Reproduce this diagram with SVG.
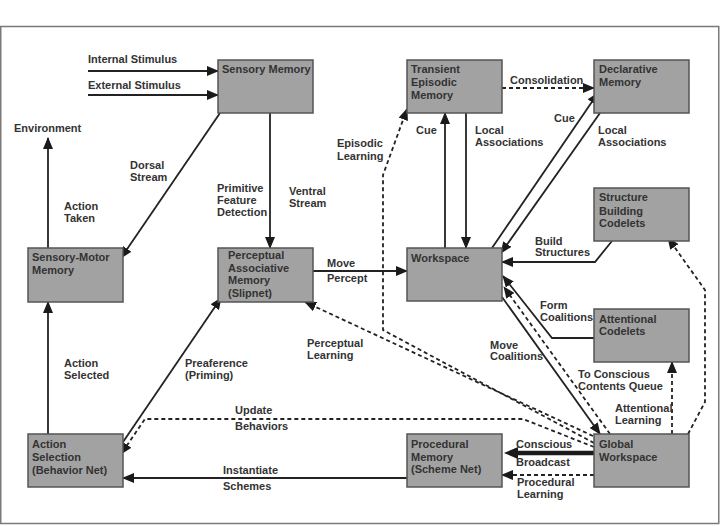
<svg xmlns="http://www.w3.org/2000/svg" width="720" height="526" viewBox="0 0 720 526">
<style>
.bg{fill:#fff}
.frame{fill:#fff;stroke:#7a7a7a;stroke-width:1.5}
.box{fill:#a2a2a2;stroke:#555;stroke-width:1.5}
text{font-family:"Liberation Sans",Arial,sans-serif;font-weight:bold;font-size:11px;fill:#333}
.ln{fill:none;stroke:#222;stroke-width:1.8}
.dash{fill:none;stroke:#222;stroke-width:1.8;stroke-dasharray:4,3}
.thick{fill:none;stroke:#1a1a1a;stroke-width:4.5}
</style>
<defs>
<marker id="ah" markerUnits="userSpaceOnUse" markerWidth="12" markerHeight="10" refX="11" refY="5" orient="auto">
<path d="M0,0 L12,5 L0,10 z" fill="#1a1a1a"/>
</marker>
<marker id="ahT" markerUnits="userSpaceOnUse" markerWidth="14" markerHeight="12" refX="2" refY="6" orient="auto">
<path d="M0,0 L14,6 L0,12 z" fill="#1a1a1a"/>
</marker>
</defs>
<rect class="bg" x="0" y="0" width="720" height="526"/>
<rect class="frame" x="0.75" y="26.5" width="718" height="497"/>

<g id="connectors">
<path class="ln" d="M88,71 H218" marker-end="url(#ah)"/>
<path class="ln" d="M88,95 H218" marker-end="url(#ah)"/>
<path class="ln" d="M48,248 V138" marker-end="url(#ah)"/>
<path class="ln" d="M220,113 L121,258" marker-end="url(#ah)"/>
<path class="ln" d="M270,113 V248" marker-end="url(#ah)"/>
<path class="ln" d="M313,271 H407" marker-end="url(#ah)"/>
<path class="ln" d="M48,434 V302" marker-end="url(#ah)"/>
<path class="ln" d="M123,442 L221,298" marker-end="url(#ah)"/>
<path class="dash" d="M594,447 L523,419 H145 L121,454" marker-end="url(#ah)"/>
<path class="dash" d="M593,436 L305,302" marker-end="url(#ah)"/>
<path class="dash" d="M594,443 L383,330 V175 L407,109" marker-end="url(#ah)"/>
<path class="ln" d="M445,248 V113" marker-end="url(#ah)"/>
<path class="ln" d="M466,113 V248" marker-end="url(#ah)"/>
<path class="dash" d="M502,88 H594" marker-end="url(#ah)"/>
<path class="ln" d="M492,248 L598,93" marker-end="url(#ah)"/>
<path class="ln" d="M600,113 L501,253" marker-end="url(#ah)"/>
<path class="ln" d="M612,241 L595,262 H502" marker-end="url(#ah)"/>
<path class="ln" d="M594,338 H552 L503,276" marker-end="url(#ah)"/>
<path class="ln" d="M502,297 L600,434" marker-end="url(#ah)"/>
<path class="dash" d="M610,434 L504,287" marker-end="url(#ah)"/>
<path class="dash" d="M672,434 V362" marker-end="url(#ah)"/>
<path class="dash" d="M688,434 L705,402 V290 L668,238" marker-end="url(#ah)"/>
<path class="thick" d="M594,453 H516" marker-end="url(#ahT)"/>
<path class="dash" d="M594,475 H502" marker-end="url(#ah)"/>
<path class="ln" d="M407,478 H123" marker-end="url(#ah)"/>
</g>

<g id="labels">
<text x="88" y="63">Internal Stimulus</text>
<text x="88" y="89">External Stimulus</text>
<text x="14" y="132">Environment</text>
<text x="130" y="169">Dorsal</text>
<text x="130" y="181">Stream</text>
<text x="64" y="210">Action</text>
<text x="64" y="222">Taken</text>
<text x="217" y="192">Primitive</text>
<text x="217" y="204">Feature</text>
<text x="217" y="216">Detection</text>
<text x="289" y="195">Ventral</text>
<text x="289" y="207">Stream</text>
<text x="327" y="267">Move</text>
<text x="327" y="282">Percept</text>
<text x="64" y="367">Action</text>
<text x="64" y="379">Selected</text>
<text x="185" y="367">Preaference</text>
<text x="185" y="379">(Priming)</text>
<text x="307" y="347">Perceptual</text>
<text x="307" y="359">Learning</text>
<text x="235" y="414">Update</text>
<text x="235" y="430">Behaviors</text>
<text x="223" y="474">Instantiate</text>
<text x="223" y="490">Schemes</text>
<text x="337" y="147">Episodic</text>
<text x="337" y="160">Learning</text>
<text x="416" y="134">Cue</text>
<text x="475" y="134">Local</text>
<text x="475" y="146">Associations</text>
<text x="510" y="84">Consolidation</text>
<text x="554" y="122">Cue</text>
<text x="598" y="134">Local</text>
<text x="598" y="146">Associations</text>
<text x="535" y="245">Build</text>
<text x="535" y="256">Structures</text>
<text x="540" y="309">Form</text>
<text x="540" y="321">Coalitions</text>
<text x="490" y="349">Move</text>
<text x="490" y="360">Coalitions</text>
<text x="578" y="378">To Conscious</text>
<text x="578" y="390">Contents Queue</text>
<text x="615" y="412">Attentional</text>
<text x="615" y="424">Learning</text>
<text x="516" y="448">Conscious</text>
<text x="516" y="466">Broadcast</text>
<text x="517" y="486">Procedural</text>
<text x="517" y="498">Learning</text>
</g>

<g id="sensory-memory">
<rect class="box" x="218" y="60" width="95" height="53"/>
<text x="222" y="73">Sensory Memory</text>
</g>
<g id="transient-episodic-memory">
<rect class="box" x="407" y="60" width="95" height="53"/>
<text x="411" y="73">Transient</text>
<text x="411" y="86">Episodic</text>
<text x="411" y="99">Memory</text>
</g>
<g id="declarative-memory">
<rect class="box" x="594" y="60" width="95" height="53"/>
<text x="599" y="73">Declarative</text>
<text x="599" y="86">Memory</text>
</g>
<g id="sensory-motor-memory">
<rect class="box" x="28" y="248" width="95" height="54"/>
<text x="32" y="261">Sensory-Motor</text>
<text x="32" y="274">Memory</text>
</g>
<g id="perceptual-associative-memory">
<rect class="box" x="218" y="248" width="95" height="54"/>
<text x="228" y="259">Perceptual</text>
<text x="228" y="272">Associative</text>
<text x="228" y="284">Memory</text>
<text x="228" y="297">(Slipnet)</text>
</g>
<g id="workspace">
<rect class="box" x="407" y="248" width="95" height="53"/>
<text x="411" y="262">Workspace</text>
</g>
<g id="structure-building-codelets">
<rect class="box" x="594" y="188" width="95" height="53"/>
<text x="599" y="201">Structure</text>
<text x="599" y="215">Building</text>
<text x="599" y="227">Codelets</text>
</g>
<g id="attentional-codelets">
<rect class="box" x="594" y="309" width="95" height="53"/>
<text x="599" y="323">Attentional</text>
<text x="599" y="335">Codelets</text>
</g>
<g id="action-selection">
<rect class="box" x="28" y="434" width="95" height="53"/>
<text x="32" y="448">Action</text>
<text x="32" y="461">Selection</text>
<text x="32" y="474">(Behavior Net)</text>
</g>
<g id="procedural-memory">
<rect class="box" x="407" y="434" width="95" height="53"/>
<text x="411" y="448">Procedural</text>
<text x="411" y="461">Memory</text>
<text x="411" y="473">(Scheme Net)</text>
</g>
<g id="global-workspace">
<rect class="box" x="594" y="434" width="95" height="53"/>
<text x="599" y="448">Global</text>
<text x="599" y="461">Workspace</text>
</g>
</svg>
